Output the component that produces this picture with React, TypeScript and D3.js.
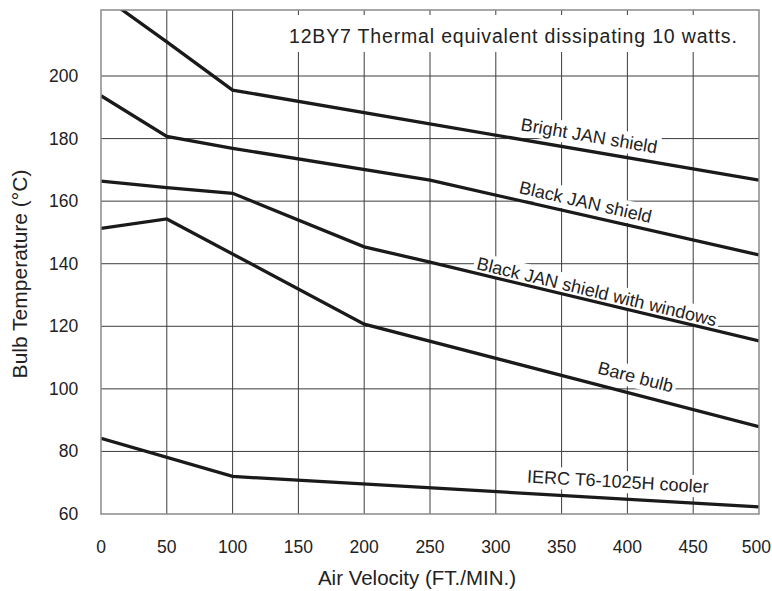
import React, { useEffect, useRef } from 'react';
import * as d3 from 'd3';

const W = 772;
const H = 591;
const FONT = "Arial, 'Liberation Sans', Helvetica, sans-serif";

const xTicks = [0, 50, 100, 150, 200, 250, 300, 350, 400, 450, 500];
const yTicks = [60, 80, 100, 120, 140, 160, 180, 200];

const brightX = [0, 50, 100, 500];
const brightY = [226, 210.9, 195.5, 166.7];
const blackX = [0, 50, 100, 250, 500];
const blackY = [193.7, 180.7, 176.9, 166.7, 142.8];
const windowsX = [0, 50, 100, 200, 250, 500];
const windowsY = [166.4, 164.3, 162.5, 145.4, 140.5, 115.3];
const bareX = [0, 50, 200, 500];
const bareY = [151.3, 154.3, 120.7, 87.9];
const coolerX = [0, 100, 500];
const coolerY = [84.2, 72, 62.3];

const seriesNames = ['Bright JAN shield', 'Black JAN shield', 'Black JAN shield with windows', 'Bare bulb', 'IERC T6-1025H cooler'];
const seriesXs = [brightX, blackX, windowsX, bareX, coolerX];
const seriesYs = [brightY, blackY, windowsY, bareY, coolerY];
const labelAt = [369, 366, 375, 403, 392];
const labelOffset = [9, 7, 4, 11, 11];

const title = '12BY7 Thermal equivalent dissipating 10 watts.';
const xTitle = 'Air Velocity (FT./MIN.)';
const yTitle = 'Bulb Temperature (°C)';

export default function App() {
  const ref = useRef<SVGSVGElement | null>(null);

  useEffect(() => {
    const svg = d3.select(ref.current);
    svg.selectAll('*').remove();
    const left = 101, right = 759, top = 10, bottom = 514;
    const x = d3.scaleLinear().domain([0, 500]).range([left, right]);
    const y = d3.scaleLinear().domain([60, 221.1]).range([bottom, top]);

    svg.append('rect').attr('width', W).attr('height', H).attr('fill', '#fff');

    const defs = svg.append('defs');
    defs.append('clipPath').attr('id', 'plotclip')
      .append('rect').attr('x', left).attr('y', top).attr('width', right - left).attr('height', bottom - top);

    const grid = svg.append('g').attr('stroke', '#3c3c3c').attr('stroke-width', 1);
    xTicks.slice(1, -1).forEach(t => {
      grid.append('line').attr('x1', x(t)).attr('x2', x(t)).attr('y1', top).attr('y2', bottom);
    });
    yTicks.slice(1).forEach(t => {
      grid.append('line').attr('x1', left).attr('x2', right).attr('y1', y(t)).attr('y2', y(t));
    });

    // title with white box
    const tg = svg.append('g');
    const tbg = tg.append('rect').attr('fill', '#fff');
    const tt = tg.append('text').attr('x', 289).attr('y', 42.7)
      .attr('font-family', FONT).attr('font-size', 19.5).attr('letter-spacing', 0.83)
      .attr('fill', '#222').text(title);
    const tb = (tt.node() as SVGTextElement).getBBox();
    tbg.attr('x', tb.x - 4).attr('y', 15).attr('width', tb.width + 8).attr('height', 37);

    const labelLayer = svg.append('g');
    const lineLayer = svg.append('g').attr('clip-path', 'url(#plotclip)');
    const textLayer = svg.append('g');

    const line = d3.line<[number, number]>().x(d => x(d[0])).y(d => y(d[1]));

    seriesNames.forEach((name, i) => {
      const xs = seriesXs[i], ys = seriesYs[i];
      const pts: [number, number][] = xs.map((v, j) => [v, ys[j]]);
      lineLayer.append('path').attr('d', line(pts) as string)
        .attr('fill', 'none').attr('stroke', '#1a1a1a').attr('stroke-width', 3.3)
        .attr('stroke-linejoin', 'miter');

      const at = labelAt[i];
      let k = 0;
      while (k < xs.length - 2 && xs[k + 1] < at) k++;
      const x0 = x(xs[k]), y0 = y(ys[k]), x1 = x(xs[k + 1]), y1 = y(ys[k + 1]);
      const px = x(at);
      const py = y0 + (y1 - y0) * (px - x0) / (x1 - x0);
      const ang = Math.atan2(y1 - y0, x1 - x0) * 180 / Math.PI;
      const g = textLayer.append('g').attr('transform', `translate(${px},${py}) rotate(${ang})`);
      const t = g.append('text').attr('x', 0).attr('y', -labelOffset[i])
        .attr('text-anchor', 'middle').attr('font-family', FONT).attr('font-size', 18)
        .attr('fill', '#222').text(name);
      const b = (t.node() as SVGTextElement).getBBox();
      labelLayer.append('rect').attr('transform', `translate(${px},${py}) rotate(${ang})`)
        .attr('x', b.x - 3).attr('y', b.y - 1).attr('width', b.width + 6).attr('height', b.height + 2)
        .attr('fill', '#fff');
    });

    svg.append('rect').attr('x', left).attr('y', top).attr('width', right - left).attr('height', bottom - top)
      .attr('fill', 'none').attr('stroke', '#8a8a8a').attr('stroke-width', 1.5);

    yTicks.forEach(t => {
      svg.append('text').attr('x', 78.3).attr('y', y(t)).attr('text-anchor', 'end')
        .attr('dominant-baseline', 'central').attr('font-family', FONT).attr('font-size', 17.5)
        .attr('fill', '#222').text(String(t));
    });
    xTicks.forEach((t, i) => {
      const last = i === xTicks.length - 1;
      svg.append('text').attr('x', last ? W - 1 : x(t)).attr('y', 552.5)
        .attr('text-anchor', last ? 'end' : 'middle')
        .attr('font-family', FONT).attr('font-size', 17.5).attr('fill', '#222').text(String(t));
    });

    svg.append('text').attr('x', 417).attr('y', 585).attr('text-anchor', 'middle')
      .attr('font-family', FONT).attr('font-size', 20.5).attr('fill', '#222').text(xTitle);
    svg.append('text').attr('transform', `translate(26.5,274) rotate(-90)`).attr('text-anchor', 'middle')
      .attr('font-family', FONT).attr('font-size', 21).attr('fill', '#222').text(yTitle);
  }, []);

  return (
    <svg ref={ref} width={W} height={H} style={{ position: 'absolute', left: 0, top: 0, display: 'block' }} />
  );
}
